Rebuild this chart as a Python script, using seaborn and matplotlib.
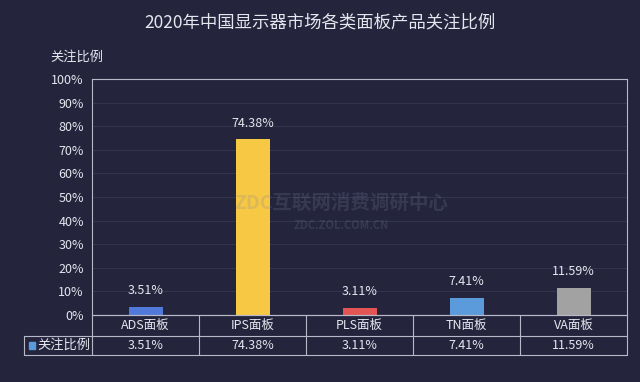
import matplotlib
matplotlib.use("Agg")
import matplotlib.pyplot as plt
import seaborn as sns
import pandas as pd
from matplotlib.lines import Line2D
from matplotlib.patches import Rectangle

categories = ["ADS面板", "IPS面板", "PLS面板", "TN面板", "VA面板"]
values = [3.51, 74.38, 3.11, 7.41, 11.59]
value_labels = ["3.51%", "74.38%", "3.11%", "7.41%", "11.59%"]
yticks = [0, 10, 20, 30, 40, 50, 60, 70, 80, 90, 100]
series_name = "关注比例"
title = "2020年中国显示器市场各类面板产品关注比例"
colors = ["#5079d9", "#f7c843", "#e35555", "#5b9bdb", "#a2a2a2"]

BG = "#24253d"
FG = "#e6e6ee"
LINE = "#b8b9c8"

sns.set_style("dark")
plt.rcParams['font.family'] = ['Noto Sans CJK SC', 'DejaVu Sans']

df = pd.DataFrame({"cat": categories, "val": values})

fig = plt.figure(figsize=(6.4, 3.82), dpi=100, facecolor=BG)
ax = fig.add_axes([0.144, 0.1754, 0.836, 0.6178])
ax.set_facecolor(BG)

sns.barplot(data=df, x="cat", y="val", hue="cat", palette=colors,
            width=0.32, legend=False, ax=ax, saturation=1, linewidth=0)

ax.set_ylim(0, 100)
ax.set_xlim(-0.5, 4.5)
ax.set_yticks(yticks)
ax.set_yticklabels([f"{t}%" for t in yticks], color=FG, fontsize=9)
ax.tick_params(axis='y', length=0, pad=6)
ax.set_xticks([])
ax.set_xlabel("")
ax.set_ylabel("")
ax.grid(axis='y', color="#33344e", linewidth=0.8)
ax.grid(axis='x', visible=False)
ax.set_axisbelow(True)
for s in ax.spines.values():
    s.set_visible(True)
    s.set_color(LINE)
    s.set_linewidth(0.8)

for i, (v, lab) in enumerate(zip(values, value_labels)):
    ax.annotate(lab, (i, v), xytext=(0, 7), textcoords="offset points",
                ha="center", va="bottom", color=FG, fontsize=9)

# watermark (semi-transparent, drawn over the bars)
ax.text(0.465, 0.475, "ZDC互联网消费调研中心", transform=ax.transAxes, ha="center",
        va="center", fontsize=14, fontweight="bold", color="#7f80a0", alpha=0.22, zorder=5)
ax.text(0.465, 0.381, "ZDC.ZOL.COM.CN", transform=ax.transAxes, ha="center",
        va="center", fontsize=8, fontweight="bold", color="#7f80a0", alpha=0.22, zorder=5)

# data table drawn in figure pixel coordinates
W, H = 640, 382
def fx(px): return px / W
def fy(py): return 1 - py / H

left, right = 92, 627
left2 = 24
y0, y1, y2 = 315, 336, 355
colw = (right - left) / 5
lw = 0.8
fig.add_artist(Line2D([fx(left), fx(right)], [fy(y0), fy(y0)], color=LINE, lw=lw))
fig.add_artist(Line2D([fx(left2), fx(right)], [fy(y1), fy(y1)], color=LINE, lw=lw))
fig.add_artist(Line2D([fx(left2), fx(right)], [fy(y2), fy(y2)], color=LINE, lw=lw))
fig.add_artist(Line2D([fx(left2), fx(left2)], [fy(y1), fy(y2)], color=LINE, lw=lw))
for k in range(6):
    x = left + k * colw
    fig.add_artist(Line2D([fx(x), fx(x)], [fy(y0), fy(y2)], color=LINE, lw=lw))
for i, (c, lab) in enumerate(zip(categories, value_labels)):
    cx = left + (i + 0.5) * colw
    fig.text(fx(cx), fy((y0 + y1) / 2), c, ha="center", va="center", color=FG, fontsize=9)
    fig.text(fx(cx), fy((y1 + y2) / 2), lab, ha="center", va="center", color=FG, fontsize=9)
fig.add_artist(Rectangle((fx(29), fy(349)), 6 / W, 7 / H, color="#5b9bdb"))
fig.text(fx(37), fy((y1 + y2) / 2), series_name, ha="left", va="center", color=FG, fontsize=9.5)

fig.text(0.5, fy(22), title, ha="center", va="center", color=FG, fontsize=12.5)
fig.text(fx(50), fy(57), series_name, ha="left", va="center", color=FG, fontsize=9.5)

fig.savefig("out.png", dpi=100, facecolor=BG)
